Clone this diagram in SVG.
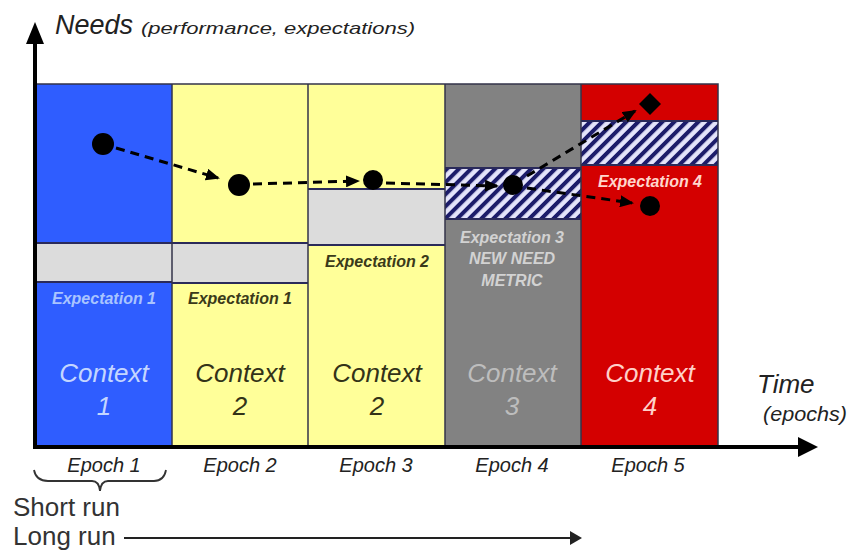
<svg xmlns="http://www.w3.org/2000/svg" width="849" height="552" viewBox="0 0 849 552">
<defs>
<pattern id="hatch" patternUnits="userSpaceOnUse" width="8.5" height="8.5" patternTransform="rotate(45)">
<rect width="8.5" height="8.5" fill="#e4e4fa"/>
<rect width="4" height="8.5" fill="#1c1c6a"/>
</pattern>
<marker id="ah" markerUnits="userSpaceOnUse" markerWidth="14" markerHeight="12" refX="12" refY="6" orient="auto">
<path d="M0,0 L14,6 L0,12 z" fill="#000"/>
</marker>
</defs>
<style>
text{font-family:"Liberation Sans",Arial,sans-serif}
.ctx{font-size:26px;font-style:italic;text-anchor:middle}
.exp{font-size:16px;font-style:italic;font-weight:bold;text-anchor:middle}
.ep{font-size:20px;font-style:italic;text-anchor:middle;fill:#222}
.div{stroke:#33334a;stroke-width:1.5;fill:none}
.band{stroke:#2a2a5a;stroke-width:2;fill:none}
.dash{stroke:#000;stroke-width:3;stroke-dasharray:9 6;fill:none;marker-end:url(#ah)}
.dot{fill:#000}
</style>
<rect width="849" height="552" fill="#fff"/>

<g id="col1">
<rect x="36" y="84" width="136" height="362" fill="#2f5dff"/>
<rect x="36" y="243" width="136" height="39" fill="#dcdcdc"/>
<line class="band" x1="36" y1="243" x2="172" y2="243"/>
<line class="band" x1="36" y1="282" x2="172" y2="282"/>
<text class="exp" x="104" y="304" fill="#a9c4ff">Expectation 1</text>
<text class="ctx" x="104" y="382" fill="#c4d6ff">Context</text>
<text class="ctx" x="104" y="415" fill="#c4d6ff">1</text>
</g>

<g id="col2">
<rect x="172" y="84" width="136" height="362" fill="#ffff99"/>
<rect x="172" y="243" width="136" height="40" fill="#dcdcdc"/>
<line class="band" x1="172" y1="243" x2="308" y2="243"/>
<line class="band" x1="172" y1="283" x2="308" y2="283"/>
<text class="exp" x="240" y="304" fill="#3a3a1a">Expectation 1</text>
<text class="ctx" x="240" y="382" fill="#333318">Context</text>
<text class="ctx" x="240" y="415" fill="#333318">2</text>
</g>

<g id="col3">
<rect x="308" y="84" width="137" height="362" fill="#ffff99"/>
<rect x="308" y="189" width="137" height="56" fill="#dcdcdc"/>
<line class="band" x1="308" y1="189" x2="445" y2="189"/>
<line class="band" x1="308" y1="245" x2="445" y2="245"/>
<text class="exp" x="377" y="267" fill="#3a3a1a">Expectation 2</text>
<text class="ctx" x="377" y="382" fill="#333318">Context</text>
<text class="ctx" x="377" y="415" fill="#333318">2</text>
</g>

<g id="col4">
<rect x="445" y="84" width="136" height="362" fill="#828282"/>
<rect x="445" y="168" width="136" height="51" fill="url(#hatch)"/>
<line class="band" x1="445" y1="168" x2="581" y2="168"/>
<line class="band" x1="445" y1="219" x2="581" y2="219"/>
<text class="exp" x="512" y="243" fill="#d2d2d2">Expectation 3</text>
<text class="exp" x="512" y="264" fill="#d2d2d2">NEW NEED</text>
<text class="exp" x="512" y="286" fill="#d2d2d2">METRIC</text>
<text class="ctx" x="512" y="382" fill="#bdbdbd">Context</text>
<text class="ctx" x="512" y="415" fill="#bdbdbd">3</text>
</g>

<g id="col5">
<rect x="581" y="84" width="137" height="362" fill="#d40000"/>
<rect x="581" y="121" width="137" height="44" fill="url(#hatch)"/>
<line class="band" x1="581" y1="121" x2="718" y2="121"/>
<line class="band" x1="581" y1="165" x2="718" y2="165"/>
<text class="exp" x="650" y="187" fill="#ffd6cc">Expectation 4</text>
<text class="ctx" x="650" y="382" fill="#ffd0c8">Context</text>
<text class="ctx" x="650" y="415" fill="#ffd0c8">4</text>
</g>

<g id="dividers">
<rect class="div" x="36" y="84" width="682" height="362"/>
<line class="div" x1="172" y1="84" x2="172" y2="446"/>
<line class="div" x1="308" y1="84" x2="308" y2="446"/>
<line class="div" x1="445" y1="84" x2="445" y2="446"/>
<line class="div" x1="581" y1="84" x2="581" y2="446"/>
</g>

<g id="connectors">
<path class="dash" d="M116,148 L218,178"/>
<path class="dash" d="M253,184 L358,181"/>
<path class="dash" d="M386,183 L497,186"/>
<path class="dash" d="M527,176 L635,111"/>
<path class="dash" d="M527,188 L632,203"/>
</g>

<g id="points">
<circle class="dot" cx="103" cy="144" r="11"/>
<circle class="dot" cx="239" cy="185" r="11"/>
<circle class="dot" cx="373" cy="180" r="10"/>
<circle class="dot" cx="513" cy="185" r="10"/>
<circle class="dot" cx="650" cy="206" r="10"/>
<path class="dot" d="M650,93 L661,104 L650,115 L639,104 z"/>
</g>

<g id="axes">
<line x1="35" y1="449" x2="35" y2="40" stroke="#000" stroke-width="4"/>
<path d="M26,44 L35,22 L44,44 z" fill="#000"/>
<line x1="33" y1="447" x2="800" y2="447" stroke="#000" stroke-width="4"/>
<path d="M798,437 L818,447 L798,457 z" fill="#000"/>
<text x="55" y="34" font-size="27" font-style="italic" fill="#222">Needs</text>
<text x="141" y="34" font-size="17" font-style="italic" fill="#222" textLength="274" lengthAdjust="spacingAndGlyphs">(performance, expectations)</text>
<text x="757" y="393" font-size="26" font-style="italic" fill="#222">Time</text>
<text x="763" y="421" font-size="20" font-style="italic" fill="#222" textLength="84" lengthAdjust="spacingAndGlyphs">(epochs)</text>
</g>

<g id="epochs">
<text class="ep" x="104" y="472">Epoch 1</text>
<text class="ep" x="240" y="472">Epoch 2</text>
<text class="ep" x="376" y="472">Epoch 3</text>
<text class="ep" x="512" y="472">Epoch 4</text>
<text class="ep" x="648" y="472">Epoch 5</text>
</g>

<g id="runs">
<path d="M34,470 Q36,481 48,481 L92,481 Q99,481 100,491 Q101,481 108,481 L154,481 Q164,481 166,470" fill="none" stroke="#333" stroke-width="1.8"/>
<text x="13" y="516" font-size="26" fill="#333">Short run</text>
<text x="13" y="545" font-size="26" fill="#333">Long run</text>
<line x1="124" y1="538" x2="572" y2="538" stroke="#222" stroke-width="2"/>
<path d="M570,531 L582,538 L570,545 z" fill="#222"/>
</g>
</svg>
